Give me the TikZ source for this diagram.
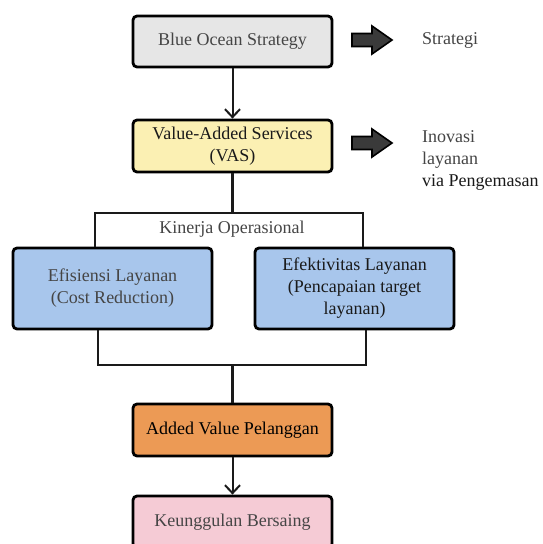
\documentclass[tikz,border=0pt]{standalone}
\usepackage{fontspec}
\setmainfont{Liberation Serif}
\usetikzlibrary{arrows.meta}
\definecolor{boxgray}{HTML}{E6E6E6}
\definecolor{boxyellow}{HTML}{FBF0B3}
\definecolor{boxblue}{HTML}{A8C6EC}
\definecolor{boxorange}{HTML}{EC9A55}
\definecolor{boxpink}{HTML}{F5CBD5}
\definecolor{arrowfill}{HTML}{3A3A3A}
\definecolor{txtgray}{HTML}{454545}
\definecolor{txtdark}{HTML}{1A1A1A}
\begin{document}
\begin{tikzpicture}[x=1pt,y=-1pt,
  every node/.style={font=\fontsize{18}{22}\selectfont},
  box/.style={draw=black, line width=2.8pt, rounded corners=4pt, minimum width=199pt,
    align=center, inner sep=2pt, text=txtdark},
  conn/.style={line width=2.7pt, draw=txtdark},
  arr/.style={line width=2pt, draw=txtdark, -{Straight Barb[length=8pt,width=15pt]}},
  sidearrow/.style={draw=black, line width=1.6pt, fill=arrowfill, line join=miter}]
\useasboundingbox (0,0) rectangle (542,544);
\fill[white] (0,0) rectangle (542,544);

% boxes
\node[box, fill=boxgray, minimum height=51pt, text=txtgray] (boa) at (232.5,41.5) {Blue Ocean Strategy};
\node[box, fill=boxyellow, minimum height=52pt] (vas) at (232.5,146) {Value-Added Services\\(VAS)};
\node[box, fill=boxblue, minimum height=81pt, text=txtgray] (efi) at (112.5,288.5) {Efisiensi Layanan\\(Cost Reduction)};
\node[box, fill=boxblue, minimum height=81pt] (efk) at (354.5,288.5) {Efektivitas Layanan\\(Pencapaian target\\layanan)};
\node[box, fill=boxorange, minimum height=52pt, text=black] (avp) at (232.5,430) {Added Value Pelanggan};
\node[box, fill=boxpink, minimum height=52pt, text=txtgray] (keu) at (232.5,522) {Keunggulan Bersaing};

\node[text=txtgray] (kin) at (232,229) {Kinerja Operasional};

% side arrows
\draw[sidearrow] (352,33.5) -- (372,33.5) -- (372,26) -- (392,40) -- (372,54) -- (372,46.5) -- (352,46.5) -- cycle;
\draw[sidearrow] (352,136.5) -- (372,136.5) -- (372,129) -- (392,143) -- (372,157) -- (372,149.5) -- (352,149.5) -- cycle;

% side texts
\node[anchor=west, text=txtgray, inner sep=0pt] (s1) at (422,40) {Strategi};
\node[anchor=north west, align=left, inner sep=0pt, text=txtdark] (s2) at (422,130)
  {\textcolor{txtgray}{Inovasi}\\\textcolor{txtgray}{layanan}\\via Pengemasan};

% connectors
\draw[arr] (boa) -- (vas);
\coordinate (tl) at (95,213);
\coordinate (tr) at (363,213);
\draw[conn] (vas.south) -- (vas.south |- tl);
\draw[conn] (tl |- efi.north) -- (tl) -- (tr) -- (tr |- efk.north);
\coordinate (bl) at (98,365);
\coordinate (br) at (366,365);
\draw[conn] (bl |- efi.south) -- (bl) -- (br) -- (br |- efk.south);
\draw[conn] (avp.north |- bl) -- (avp.north);
\draw[arr] (avp) -- (keu);
\end{tikzpicture}
\end{document}
